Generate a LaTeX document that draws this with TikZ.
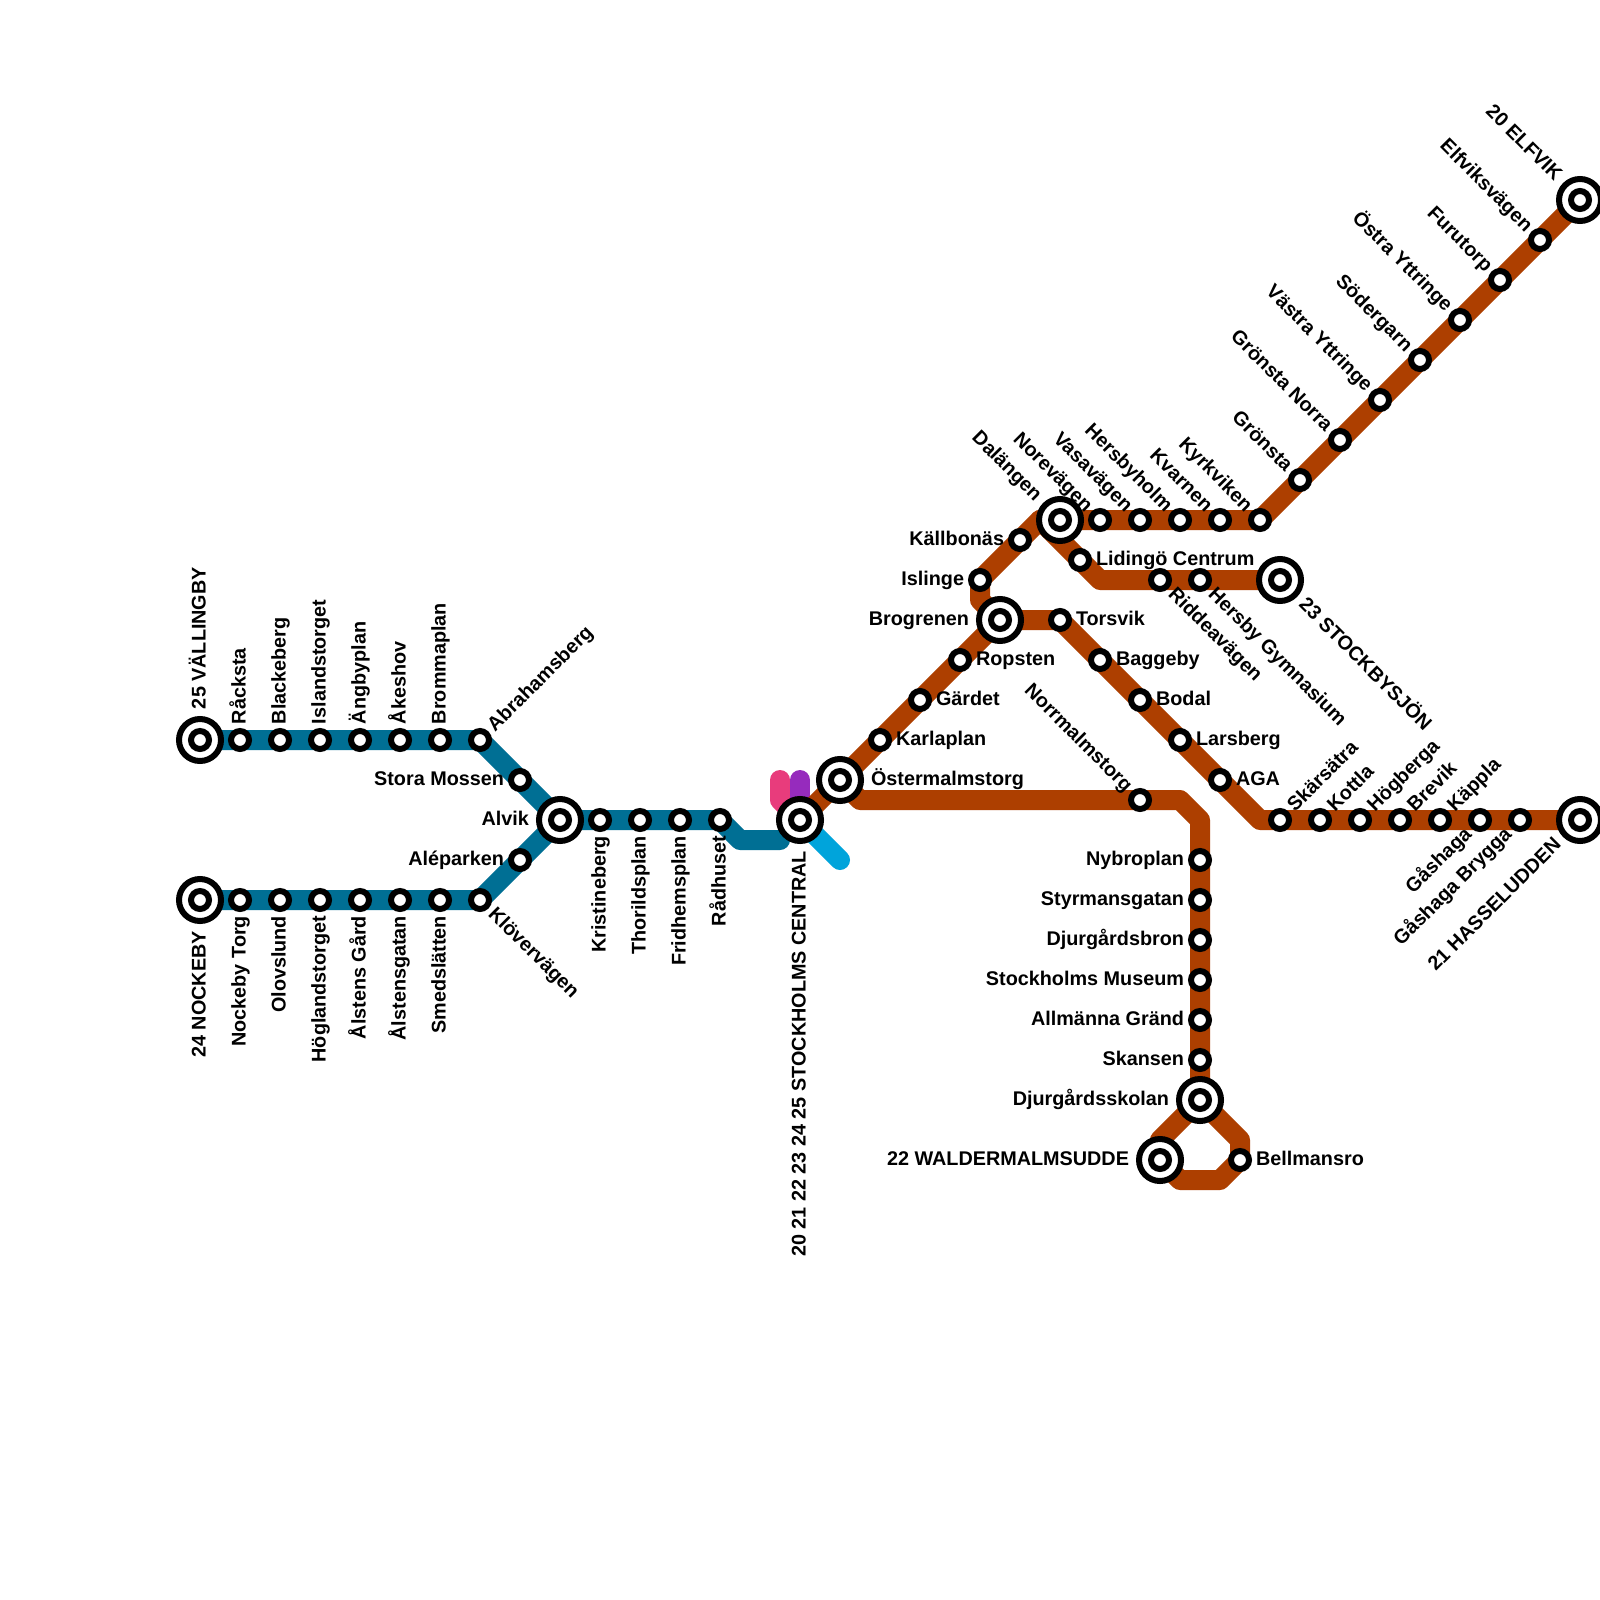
\documentclass[tikz,border=0pt]{standalone}
\usepackage{fontspec}
\setmainfont{Liberation Sans}
\pgfdeclarelayer{bg}
\pgfsetlayers{bg,main}
\definecolor{brownline}{HTML}{AD3F00}
\definecolor{blueline}{HTML}{006F94}
\definecolor{pinkline}{HTML}{E83C7C}
\definecolor{purpleline}{HTML}{962BBD}
\definecolor{cyanline}{HTML}{00A4DB}
\newcommand\stn[5]{\def\off{16pt}\node[stop] (#1) at (#2,#3) {};\node[lbl,#4] (#1-t) at (#1) {#5};}
\newcommand\hub[5]{\def\off{31pt}\node[hubring] (#1) at (#2,#3) {};\node[stop] (#1-i) at (#1) {};\node[lbl,#4] (#1-t) at (#1) {#5};}
\tikzset{
  stop/.style={circle,draw=black,fill=white,line width=6pt,minimum size=18pt,inner sep=0pt},
  hubring/.style={circle,draw=black,fill=white,line width=6pt,minimum size=42pt,inner sep=0pt},
  lbl/.style={inner sep=0pt,outer sep=0pt,text height=11pt,text depth=0pt,font=\fontsize{19.8}{24}\selectfont\bfseries},
  tr/.style={anchor=west,xshift=\off},
  tur/.style={rotate=45,anchor=west,xshift=\off},
  tu/.style={rotate=90,anchor=west,xshift=\off},
  tdr/.style={rotate=-45,anchor=west,xshift=\off},
  tl/.style={anchor=east,xshift=-\off},
  tul/.style={rotate=-45,anchor=east,xshift=-\off},
  td/.style={rotate=90,anchor=east,xshift=-\off},
  tdl/.style={rotate=45,anchor=east,xshift=-\off},
  metro/.style={line width=20pt,line cap=round,line join=round},
}
\begin{document}
\begin{tikzpicture}[x=1pt,y=-1pt]
\useasboundingbox (0,0) rectangle (1600,1600);
% blue branches
\hub{vall}{200}{740}{tu}{25 VÄLLINGBY}
\stn{rack}{240}{740}{tu}{Råcksta}
\stn{blac}{280}{740}{tu}{Blackeberg}
\stn{isla}{320}{740}{tu}{Islandstorget}
\stn{angb}{360}{740}{tu}{Ängbyplan}
\stn{akes}{400}{740}{tu}{Åkeshov}
\stn{brom}{440}{740}{tu}{Brommaplan}
\stn{abra}{480}{740}{tur}{Abrahamsberg}
\stn{stor}{520}{780}{tl}{Stora Mossen}
\hub{nock}{200}{900}{td}{24 NOCKEBY}
\stn{ntor}{240}{900}{td}{Nockeby Torg}
\stn{olov}{280}{900}{td}{Olovslund}
\stn{hogl}{320}{900}{td}{Höglandstorget}
\stn{agrd}{360}{900}{td}{Ålstens Gård}
\stn{agat}{400}{900}{td}{Ålstensgatan}
\stn{smed}{440}{900}{td}{Smedslätten}
\stn{klov}{480}{900}{tdr}{Klöverv\"agen}
\stn{alep}{520}{860}{tl}{Aléparken}
\hub{alvi}{560}{820}{tl}{Alvik}
\stn{kris}{600}{820}{td}{Kristineberg}
\stn{thor}{640}{820}{td}{Thorildsplan}
\stn{frid}{680}{820}{td}{Fridhemsplan}
\stn{radh}{720}{820}{td}{Rådhuset}
\hub{cent}{800}{820}{td}{20 21 22 23 24 25 STOCKHOLMS CENTRAL}
\hub{oste}{840}{780}{tr}{Östermalmstorg}
% ropsten branch
\stn{karl}{880}{740}{tr}{Karlaplan}
\stn{gard}{920}{700}{tr}{Gärdet}
\stn{rops}{960}{660}{tr}{Ropsten}
\hub{brog}{1000}{620}{tl}{Brogrenen}
\stn{tors}{1060}{620}{tr}{Torsvik}
\stn{bagg}{1100}{660}{tr}{Baggeby}
\stn{boda}{1140}{700}{tr}{Bodal}
\stn{lars}{1180}{740}{tr}{Larsberg}
\stn{aga}{1220}{780}{tr}{AGA}
\stn{skar}{1280}{820}{tur}{Skärsätra}
\stn{kott}{1320}{820}{tur}{Kottla}
\stn{hogb}{1360}{820}{tur}{Högberga}
\stn{brev}{1400}{820}{tur}{Brevik}
\stn{kapp}{1440}{820}{tur}{Käppla}
\stn{gash}{1480}{820}{tdl}{Gåshaga}
\stn{gbry}{1520}{820}{tdl}{Gåshaga Brygga}
\hub{hass}{1580}{820}{tdl}{21 HASSELUDDEN}
\stn{isli}{980}{580}{tl}{Islinge}
\stn{kall}{1020}{540}{tl}{Källbonäs}
\hub{dala}{1060}{520}{tul}{Dalängen}
\stn{nore}{1100}{520}{tul}{Norevägen}
\stn{vasa}{1140}{520}{tul}{Vasavägen}
\stn{hers}{1180}{520}{tul}{Hersbyholm}
\stn{kvar}{1220}{520}{tul}{Kvarnen}
\stn{kyrk}{1260}{520}{tul}{Kyrkviken}
\stn{gron}{1300}{480}{tul}{Grönsta}
\stn{gnor}{1340}{440}{tul}{Grönsta Norra}
\stn{vast}{1380}{400}{tul}{Västra Yttringe}
\stn{sode}{1420}{360}{tul}{Södergarn}
\stn{ostr}{1460}{320}{tul}{Östra Yttringe}
\stn{furu}{1500}{280}{tul}{Furutorp}
\stn{elfv}{1540}{240}{tul}{Elfviksvägen}
\hub{elfk}{1580}{200}{tul}{20 ELFVIK}
\stn{lidi}{1080}{560}{tr}{Lidingö Centrum}
\stn{ridd}{1160}{580}{tdr}{Riddeavägen}
\stn{hgym}{1200}{580}{tdr}{Hersby Gymnasium}
\hub{stoc}{1280}{580}{tdr}{23 STOCKBYSJÖN}
% djurgarden branch
\stn{norr}{1140}{800}{tul}{Norrmalmstorg}
\stn{nybr}{1200}{860}{tl}{Nybroplan}
\stn{styr}{1200}{900}{tl}{Styrmansgatan}
\stn{djbr}{1200}{940}{tl}{Djurgårdsbron}
\stn{muse}{1200}{980}{tl}{Stockholms Museum}
\stn{allm}{1200}{1020}{tl}{Allmänna Gränd}
\stn{skan}{1200}{1060}{tl}{Skansen}
\hub{djsk}{1200}{1100}{tl}{Djurgårdsskolan}
\hub{wald}{1160}{1160}{tl}{22 WALDERMALMSUDDE}
\stn{bell}{1240}{1160}{tr}{Bellmansro}
% bends and free ends
\coordinate (pinktop) at (780,780);
\coordinate (pinkbend) at (780,800);
\coordinate (purptop) at (800,780);
\coordinate (cyanend) at (840,860);
\coordinate (bluea) at (740,840);
\coordinate (blueend) at (780,840);
\coordinate (ba) at (860,800);
\coordinate (bb) at (1180,800);
\coordinate (bc) at (1200,820);
\coordinate (bd) at (1160,1140);
\coordinate (be) at (1240,1140);
\coordinate (bf) at (1220,1180);
\coordinate (bg) at (1180,1180);
\coordinate (bh) at (1080,620);
\coordinate (bi) at (1260,820);
\coordinate (bj) at (980,600);
\coordinate (bk) at (1040,520);
\coordinate (bl) at (1100,580);
\begin{pgfonlayer}{bg}
\fill[white] (0,0) rectangle (1600,1600);
\draw[metro,pinkline] (pinktop) -- (pinkbend) -- (cent.center);
\draw[metro,purpleline] (purptop) -- (cent.center);
\draw[metro,cyanline] (cent.center) -- (cyanend);
\draw[metro,blueline] (vall.center) -- (abra.center) -- (alvi.center) -- (radh.center) -- (bluea) -- (blueend);
\draw[metro,blueline] (nock.center) -- (klov.center) -- (alvi.center);
\draw[metro,brownline] (cent.center) -- (oste.center) -- (brog.center) -- (tors.center) -- (bi) -- (hass.center);
\draw[metro,brownline] (oste.center) -- (ba) -- (bb) -- (bc) -- (djsk.center) -- (bd) -- (wald.center) -- (bg) -- (bf) -- (bell.center) -- (be) -- (djsk.center);
\draw[metro,brownline] (brog.center) -- (bj) -- (isli.center) -- (bk) -- (kyrk.center) -- (elfk.center);
\draw[metro,brownline] (bk) -- (bl) -- (stoc.center);
\end{pgfonlayer}
\end{tikzpicture}
\end{document}
